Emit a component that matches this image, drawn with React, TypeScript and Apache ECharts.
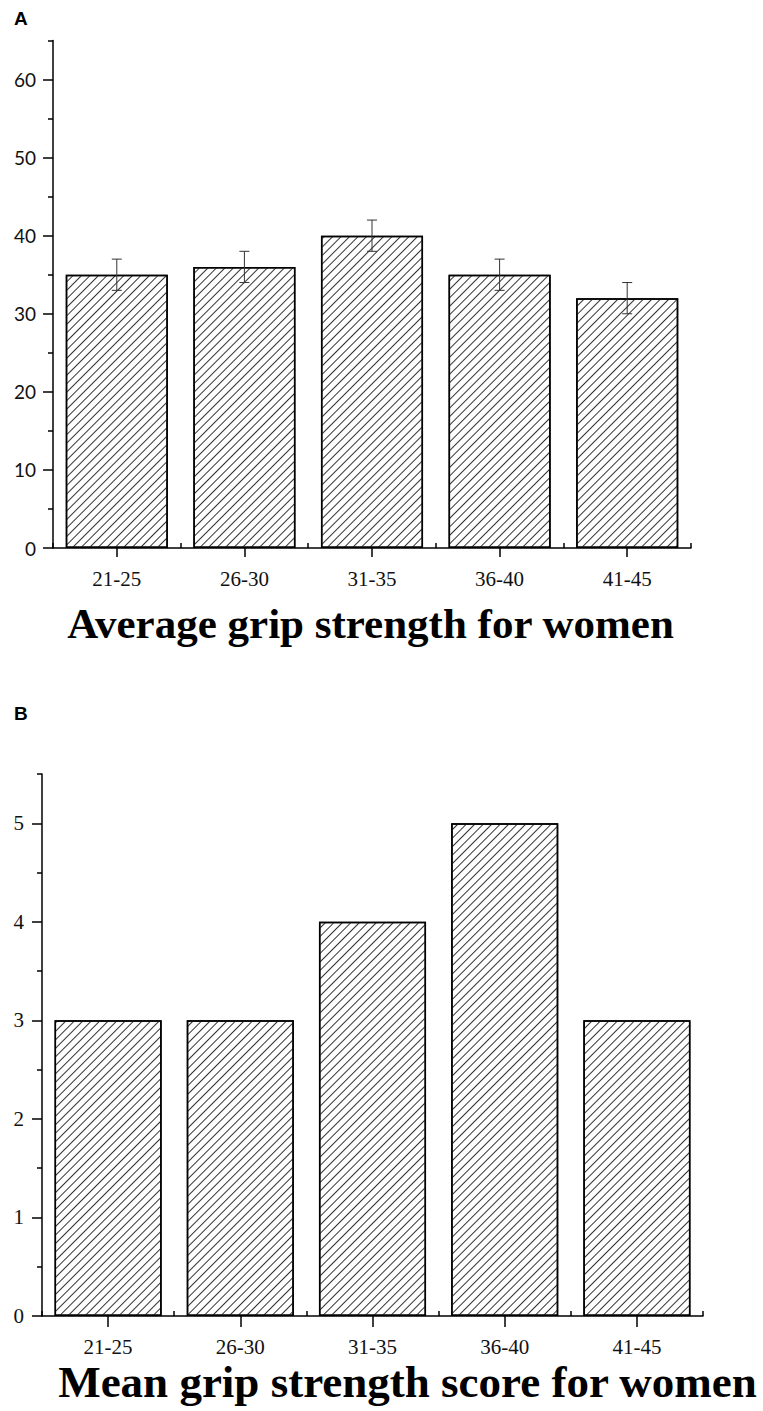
import React, { useEffect, useRef } from "react";
import * as echarts from "echarts";

const categories = ["21-25", "26-30", "31-35", "36-40", "41-45"];
const avgGrip = [35, 36, 40, 35, 32];
const avgGripErr = [2, 2, 2, 2, 2];
const meanScore = [3, 3, 4, 5, 3];
const yMajorA = [0, 10, 20, 30, 40, 50, 60];
const yMinorA = [5, 15, 25, 35, 45, 55, 65];
const yMajorB = [0, 1, 2, 3, 4, 5];
const yMinorB = [0.5, 1.5, 2.5, 3.5, 4.5, 5.5];
const titleA = "Average grip strength for women";
const titleB = "Mean grip strength score for women";

const serif = "Liberation Serif";
const hatch = {
  symbol: "rect",
  symbolSize: 1,
  dashArrayX: [1, 0],
  dashArrayY: [1, 4.2],
  rotation: -Math.PI / 4,
  color: "#333",
};

export default function App() {
  const ref = useRef<HTMLDivElement>(null);
  useEffect(() => {
    const chart = echarts.init(ref.current!, null, { renderer: "svg" });
    const axisLine = { show: true, lineStyle: { color: "#000", width: 1.5 } };
    const xMain = (gridIndex: number, tickLen: number, margin: number) => ({
      type: "category",
      gridIndex,
      data: categories,
      axisLine,
      axisTick: { show: true, alignWithLabel: true, length: tickLen, lineStyle: { color: "#000", width: 1.5 } },
      axisLabel: { fontFamily: serif, fontSize: 21, color: "#111", margin, lineHeight: 22 },
      splitLine: { show: false },
    });
    const xBound = (gridIndex: number) => ({
      type: "category",
      gridIndex,
      data: categories,
      axisLine: { show: false },
      axisTick: { show: true, alignWithLabel: false, length: 5, lineStyle: { color: "#000", width: 1.5 } },
      axisLabel: { show: false },
      splitLine: { show: false },
    });
    const yMain = (gridIndex: number, max: number, interval: number, major: number[], font: string, margin: number) => ({
      type: "value",
      gridIndex,
      min: 0,
      max,
      interval,
      axisLine,
      axisTick: { show: true, length: 10, customValues: major, lineStyle: { color: "#000", width: 1.5 } },
      axisLabel: { customValues: major, fontFamily: font, fontSize: gridIndex === 0 ? 19 : 21, color: "#111", margin },
      splitLine: { show: false },
    });
    const yMinor = (gridIndex: number, max: number, interval: number, minor: number[]) => ({
      type: "value",
      gridIndex,
      min: 0,
      max,
      interval,
      position: "left",
      axisLine: { show: false },
      axisTick: { show: true, length: 5, customValues: minor, lineStyle: { color: "#000", width: 1.5 } },
      axisLabel: { show: false },
      splitLine: { show: false },
    });

    const errData = avgGrip.map((v, i) => [i, v - avgGripErr[i], v + avgGripErr[i]]);

    chart.setOption({
      animation: false,
      backgroundColor: "#fff",
      grid: [
        { left: 53, right: 72, top: 40.5, bottom: 863 },
        { left: 42, right: 60, top: 774, bottom: 95 },
      ],
      xAxis: [xMain(0, 9, 20), xBound(0), xMain(1, 11, 20), xBound(1)],
      yAxis: [
        yMain(0, 65, 5, yMajorA, "Lato", 17),
        yMinor(0, 65, 5, yMinorA),
        yMain(1, 5.5, 0.5, yMajorB, serif, 18),
        yMinor(1, 5.5, 0.5, yMinorB),
      ],
      graphic: [
        { type: "text", left: 14, top: 9, style: { text: "A", fontFamily: "Liberation Sans", fontWeight: "bold", fontSize: 19, fill: "#000" } },
        { type: "text", left: 14, top: 704, style: { text: "B", fontFamily: "Liberation Sans", fontWeight: "bold", fontSize: 19, fill: "#000" } },
        { type: "text", x: 370.5, y: 623, style: { text: titleA, fontFamily: serif, fontWeight: "bold", fontSize: 43, fill: "#000", align: "center", verticalAlign: "middle" } },
        { type: "text", x: 407.5, y: 1382, style: { text: titleB, fontFamily: serif, fontWeight: "bold", fontSize: 45, lineHeight: 40, fill: "#000", align: "center", verticalAlign: "middle" } },
      ],
      series: [
        {
          type: "bar",
          xAxisIndex: 0,
          yAxisIndex: 0,
          data: avgGrip,
          barCategoryGap: "20%",
          itemStyle: { color: "#fff", borderColor: "#000", borderWidth: 1.5, decal: hatch },
        },
        {
          type: "custom",
          xAxisIndex: 0,
          yAxisIndex: 0,
          data: errData,
          z: 5,
          renderItem: (params: any, api: any) => {
            const lo = api.coord([api.value(0), api.value(1)]);
            const hi = api.coord([api.value(0), api.value(2)]);
            const hw = 5;
            const st = { stroke: "#333", lineWidth: 1 };
            return {
              type: "group",
              children: [
                { type: "line", shape: { x1: hi[0], y1: hi[1], x2: lo[0], y2: lo[1] }, style: st },
                { type: "line", shape: { x1: hi[0] - hw, y1: hi[1], x2: hi[0] + hw, y2: hi[1] }, style: st },
                { type: "line", shape: { x1: lo[0] - hw, y1: lo[1], x2: lo[0] + hw, y2: lo[1] }, style: st },
              ],
            };
          },
        },
        {
          type: "bar",
          xAxisIndex: 2,
          yAxisIndex: 2,
          data: meanScore,
          barCategoryGap: "19%",
          itemStyle: { color: "#fff", borderColor: "#000", borderWidth: 1.5, decal: hatch },
        },
      ],
    });
    return () => chart.dispose();
  }, []);
  return <div ref={ref} style={{ position: "absolute", left: 0, top: 0, width: 763, height: 1411 }} />;
}
